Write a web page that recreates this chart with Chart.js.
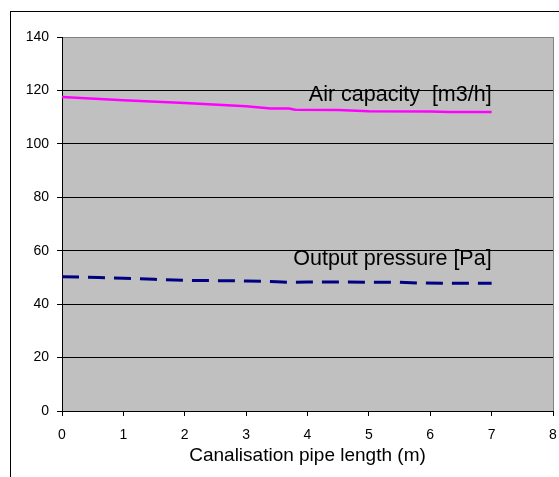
<!DOCTYPE html>
<html>
<head>
<meta charset="utf-8">
<script src="https://cdn.jsdelivr.net/npm/chart.js@4/dist/chart.umd.min.js"></script>
<style>
  html, body { margin: 0; padding: 0; background: #fff; }
  canvas { display: block; }
</style>
</head>
<body>
<canvas id="c" width="559" height="477"></canvas>
<script>
// ---- data ----
const airLengths = [0, 1, 2, 3, 3.4, 3.7, 3.8, 4.5, 5, 6, 6.3, 7];
const airCapacity = [117.5, 116.3, 115.3, 114.1, 113.2, 113.2, 112.8, 112.7, 112.2, 112.1, 111.9, 111.9];
const pressureLengths = [0, 0.6, 1, 1.5, 2, 2.5, 3, 3.5, 3.7, 4, 5.5, 5.8, 7];
const outputPressure = [50.3, 50.0, 49.7, 49.3, 48.9, 48.8, 48.7, 48.4, 48.2, 48.3, 48.2, 47.9, 47.8];
const xTicks = [0, 1, 2, 3, 4, 5, 6, 7, 8];
const yTicks = [0, 20, 40, 60, 80, 100, 120, 140];
const xTitle = 'Canalisation pipe length (m)';
const seriesLabels = ['Air capacity  [m3/h]', 'Output pressure [Pa]'];

const FONT = "'Liberation Sans', Arial, sans-serif";
Chart.defaults.font.family = FONT;
Chart.defaults.color = '#000';

const toPoints = (xs, ys) => xs.map((x, i) => ({ x, y: ys[i] }));

const decor = {
  id: 'decor',
  beforeDraw(chart) {
    const { ctx, chartArea: a } = chart;
    ctx.save();
    ctx.fillStyle = '#fff';
    ctx.fillRect(0, 0, chart.width, chart.height);
    ctx.strokeStyle = '#000';
    ctx.lineWidth = 1;
    ctx.strokeRect(10.5, 11.5, 800, 800);
    ctx.fillStyle = '#C0C0C0';
    ctx.fillRect(a.left, a.top, a.right - a.left, a.bottom - a.top);
    ctx.restore();
  },
  afterDatasetsDraw(chart) {
    const { ctx } = chart;
    const xs = chart.scales.x, ys = chart.scales.y;
    const anchors = [
      { text: seriesLabels[0], x: 7, y: 115.9 },
      { text: seriesLabels[1], x: 7, y: 54.7 }
    ];
    ctx.save();
    ctx.font = '21.5px ' + FONT;
    ctx.fillStyle = '#000';
    ctx.textAlign = 'right';
    ctx.textBaseline = 'alphabetic';
    anchors.forEach(a => ctx.fillText(a.text, xs.getPixelForValue(a.x), ys.getPixelForValue(a.y)));
    ctx.restore();
  }
};

new Chart(document.getElementById('c'), {
  type: 'line',
  data: {
    datasets: [
      {
        label: seriesLabels[0],
        data: toPoints(airLengths, airCapacity),
        borderColor: '#FF00FF',
        borderWidth: 2.5,
        pointRadius: 0,
        tension: 0,
        fill: false
      },
      {
        label: seriesLabels[1],
        data: toPoints(pressureLengths, outputPressure),
        borderColor: '#000080',
        borderWidth: 3,
        borderDash: [17, 9],
        borderCapStyle: 'butt',
        pointRadius: 0,
        tension: 0,
        fill: false
      }
    ]
  },
  options: {
    responsive: false,
    animation: false,
    events: [],
    layout: { padding: { top: 37, right: 6, left: 0, bottom: 0 } },
    plugins: { legend: { display: false }, tooltip: { enabled: false }, title: { display: false } },
    scales: {
      x: {
        type: 'linear',
        min: xTicks[0],
        max: xTicks[xTicks.length - 1],
        afterBuildTicks(s) { s.ticks = xTicks.map(v => ({ value: v })); },
        afterFit(s) { s.height = 66; s.paddingRight = 0; s.paddingLeft = 0; },
        ticks: { font: { size: 14 }, color: '#000', padding: 11, maxRotation: 0, autoSkip: false },
        grid: {
          drawOnChartArea: true,
          color: c => (c.tick && c.tick.value === 8) ? '#808080' : 'rgba(0,0,0,0)',
          tickColor: '#000',
          tickLength: 5,
          lineWidth: 1
        },
        border: { color: '#000', width: 1 },
        title: { display: true, text: xTitle, font: { size: 19 }, color: '#000', padding: { top: 0, bottom: 10 } }
      },
      y: {
        min: yTicks[0],
        max: yTicks[yTicks.length - 1],
        afterBuildTicks(s) { s.ticks = yTicks.map(v => ({ value: v })); },
        afterFit(s) { s.width = 62; s.paddingTop = 0; s.paddingBottom = 0; },
        ticks: { font: { size: 14 }, color: '#000', padding: 8 },
        grid: {
          color: c => (c.tick && c.tick.value === 140) ? '#808080' : '#000',
          tickColor: '#000',
          tickLength: 5,
          lineWidth: 1
        },
        border: { color: '#000', width: 1 }
      }
    }
  },
  plugins: [decor]
});
</script>
</body>
</html>
